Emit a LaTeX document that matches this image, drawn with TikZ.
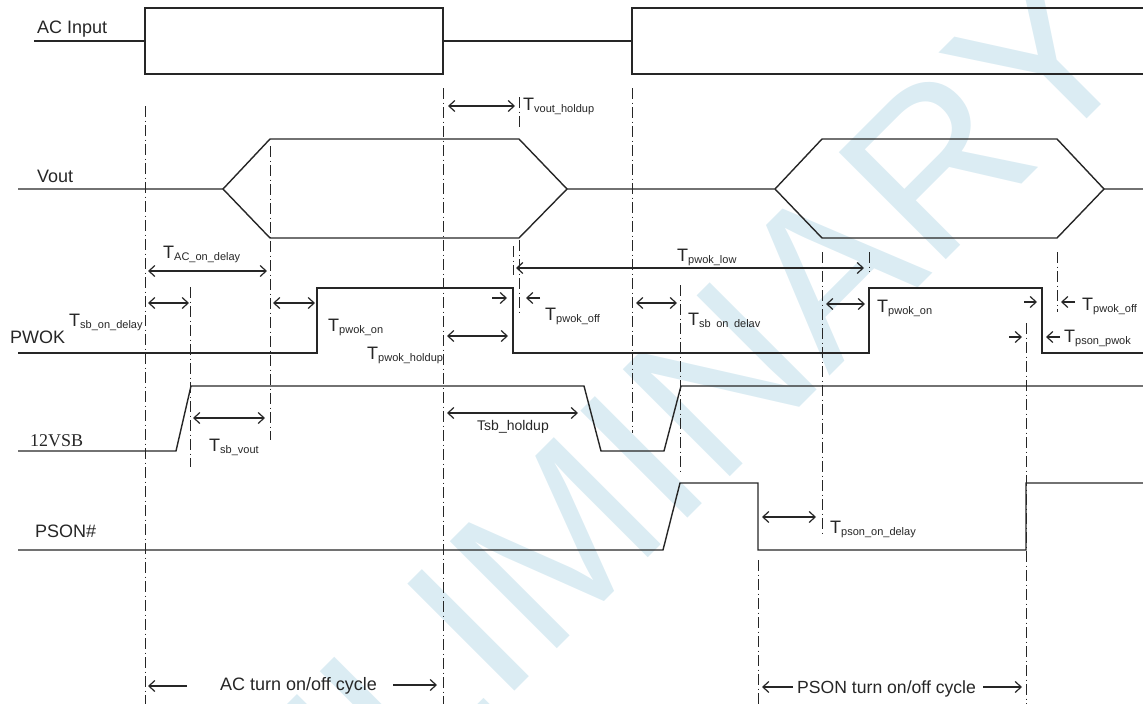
\documentclass[tikz,border=0pt]{standalone}
\usepackage{fontspec}
\setmainfont{Liberation Sans}
\newfontfamily\serifvsb{Liberation Serif}
\usetikzlibrary{arrows.meta}
\definecolor{wm}{RGB}{219,236,243}
\definecolor{ink}{RGB}{38,38,38}
\tikzset{
  sig/.style={draw=ink, line width=1.4pt, line join=miter},
  guide/.style={draw=ink, line width=0.9pt, dash pattern=on 11pt off 3.5pt on 1pt off 3.5pt},
  dim/.style={draw=ink, line width=1.2pt, {Straight Barb[length=6pt,width=11pt]}-{Straight Barb[length=6pt,width=11pt]}},
  rarr/.style={draw=ink, line width=1.2pt, -{Straight Barb[length=6pt,width=11pt]}},
  lbl/.style={font=\fontsize{18}{18}\selectfont, inner sep=0pt, anchor=base west, text=ink},
  tlbl/.style={lbl},
}
\newcommand\Tsub[1]{T\raisebox{-2.5pt}{\fontsize{11}{11}\selectfont #1}}
\begin{document}
\begin{tikzpicture}[x=1pt,y=-1pt]
\useasboundingbox (0,0) rectangle (1143,704);
\clip (0,0) rectangle (1143,704);
% watermark
\node[rotate=45, text=wm, font=\fontsize{220}{220}\selectfont, inner sep=0pt] (wmark) at (567,532) {PRELIMINARY};
% guide lines
\draw[guide] (145,106) -- (145,704);
\draw[guide] (190,287) -- (190,467);
\draw[guide] (270,146) -- (270,440);
\draw[guide] (443,88) -- (443,704);
\draw[guide] (513,246) -- (513,275);
\draw[guide] (519,97) -- (519,128);
\draw[guide] (519,240) -- (519,312);
\draw[guide] (632,88) -- (632,433);
\draw[guide] (680,285) -- (680,475);
\draw[guide] (822,252) -- (822,533);
\draw[guide] (869,252) -- (869,272);
\draw[guide] (1057,252) -- (1057,312);
\draw[guide] (1026,323) -- (1026,704);
\draw[guide] (758,560) -- (758,704);
% AC input
\draw[sig] (34,41) -- (145,41);
\draw[sig] (145,8) -- (443,8) -- (443,74) -- (145,74) -- cycle;
\draw[sig] (443,41) -- (632,41);
\draw[sig] (1143,8) -- (632,8) -- (632,74) -- (1143,74);
% Vout
\draw[sig] (18,189) -- (223,189) -- (270,139) -- (519,139) -- (567,189) -- (775,189) -- (822,139) -- (1057,139) -- (1104,189) -- (1143,189);
\draw[sig] (223,189) -- (270,238) -- (519,238) -- (567,189);
\draw[sig] (775,189) -- (822,238) -- (1057,238) -- (1104,189);
% PWOK
\draw[sig] (18,353) -- (317,353) -- (317,288) -- (513,288) -- (513,353) -- (869,353) -- (869,288) -- (1042,288) -- (1042,353) -- (1143,353);
% 12VSB
\draw[sig] (18,451) -- (176,451) -- (191,386) -- (584,386) -- (601,451) -- (664,451) -- (681,386) -- (1143,386);
% PSON#
\draw[sig] (18,550) -- (663,550) -- (680,483) -- (758,483) -- (758,550) -- (1026,550) -- (1026,483) -- (1143,483);
% signal names
\node[lbl] (lac) at (37,33) {AC Input};
\node[lbl] (lvout) at (37,182) {Vout};
\node[lbl] (lpwok) at (10,343) {PWOK};
\node[lbl, font=\serifvsb\fontsize{18}{18}\selectfont] (lvsb) at (30,446) {12VSB};
\node[lbl] (lpson) at (35,537) {PSON\#};
% dimension arrows
\draw[dim] (448,106) -- (515,106);
\draw[dim] (148,271) -- (267,271);
\draw[dim] (148,303) -- (189,303);
\draw[dim] (273,303) -- (315,303);
\draw[dim] (447,336) -- (508,336);
\draw[rarr] (492,298) -- (507,298);
\draw[rarr] (540,298) -- (526,298);
\draw[dim] (516,268) -- (864,268);
\draw[dim] (636,303) -- (677,303);
\draw[dim] (826,304) -- (865,304);
\draw[rarr] (1024,302) -- (1037,302);
\draw[rarr] (1075,302) -- (1061,302);
\draw[rarr] (1009,337) -- (1022,337);
\draw[rarr] (1060,337) -- (1046,337);
\draw[dim] (193,418) -- (265,418);
\draw[dim] (447,413) -- (578,413);
\draw[dim] (762,517) -- (816,517);
\draw[rarr] (187,686) -- (148,686);
\draw[rarr] (393,685) -- (437,685);
\draw[rarr] (793,687) -- (762,687);
\draw[rarr] (983,687) -- (1022,687);
% timing labels
\node[tlbl] (t1) at (523,110) {\Tsub{vout\_holdup}};
\node[tlbl] (t2) at (163,258) {\Tsub{AC\_on\_delay}};
\node[tlbl] (t3) at (69,326) {\Tsub{sb\_on\_delay}};
\node[tlbl] (t4) at (328,331) {\Tsub{pwok\_on}};
\node[tlbl] (t5) at (367,359) {\Tsub{pwok\_holdup}};
\node[tlbl] (t6) at (545,320) {\Tsub{pwok\_off}};
\node[tlbl] (t7) at (677,261) {\Tsub{pwok\_low}};
\node[tlbl] (t8) at (688,325) {\Tsub{sb\enspace on\enspace delav}};
\node[tlbl] (t9) at (877,312) {\Tsub{pwok\_on}};
\node[tlbl] (t10) at (1082,310) {\Tsub{pwok\_off}};
\node[tlbl] (t11) at (1064,342) {\Tsub{pson\_pwok}};
\node[tlbl] (t12) at (209,451) {\Tsub{sb\_vout}};
\node[tlbl, font=\fontsize{14}{14}\selectfont] (t13) at (477,430) {Tsb\_holdup};
\node[tlbl] (t14) at (830,533) {\Tsub{pson\_on\_delay}};
\node[lbl] (c1) at (220,690) {AC turn on/off cycle};
\node[lbl, font=\fontsize{17.6}{18}\selectfont] (c2) at (797,693) {PSON turn on/off cycle};
\end{tikzpicture}
\end{document}
